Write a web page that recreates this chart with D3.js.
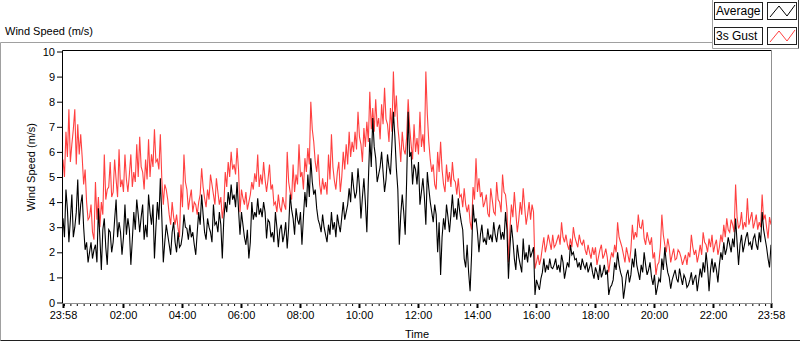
<!DOCTYPE html>
<html>
<head>
<meta charset="utf-8">
<script src="https://cdn.jsdelivr.net/npm/d3@7"></script>
<style>
body { margin: 0; background: #fff; }
text { font-family: "Liberation Sans", Arial, sans-serif; font-size: 11px; fill: #000; }
</style>
</head>
<body>
<svg width="800" height="342"></svg>
<script>
// 3s gust, one reading every 3 minutes from 23:58
var gust = [
  5.7,5.0, 6.8,5.8, 7.7,5.6, 6.3,6.9, 7.7,5.5, 7.1,5.9, 6.7,5.8, 4.7,5.3, 4.0,3.3, 3.4,3.9, 2.8,2.5, 4.8,3.3, 4.2,3.0, 4.0,3.5, 5.9,4.1,
  4.5,4.6, 5.6,4.2, 4.4,5.7, 4.9,4.2, 6.1,4.6, 4.9,4.4, 5.9,4.9, 4.4,5.1, 5.9,4.6, 5.2,4.8, 6.3,5.0, 6.6,5.4, 5.2,4.5, 5.7,4.9, 6.5,5.0,
  5.9,5.4, 6.9,5.6, 5.7,5.3, 6.7,4.9, 3.9,4.7, 4.5,4.1, 3.5,3.1, 4.0,3.4, 3.1,3.5, 2.95,2.6, 4.7,3.8, 5.9,4.8, 4.5,3.7, 4.15,4.5, 3.6,4.0,
  3.9,3.5, 4.0,4.3, 5.35,4.6, 4.15,3.8, 4.5,4.1, 5.1,4.7, 4.3,3.9, 4.95,4.4, 3.9,4.2, 3.35,3.8, 5.2,4.6, 5.6,5.0, 6.0,5.3, 5.5,5.1, 6.15,5.3,
  3.6,4.5, 4.15,3.9, 4.4,3.7, 4.0,4.3, 4.8,4.5, 5.15,4.8, 5.9,4.6, 5.1,4.7, 5.6,4.9, 4.4,4.9, 5.5,4.5, 4.7,3.9, 4.0,3.6, 4.3,3.8, 3.6,4.2,
  3.9,3.7, 6.0,4.8, 4.4,4.1, 5.5,4.4, 5.1,4.7, 6.3,5.0, 5.2,4.5, 5.75,5.2, 6.15,5.5, 8.0,6.9, 6.4,5.6, 5.2,5.9, 4.7,4.3, 4.95,4.5, 4.8,4.3,
  5.9,4.9, 6.7,5.4, 4.85,4.5, 5.2,5.6, 4.4,5.0, 6.0,5.3, 6.3,5.5, 6.8,5.8, 6.4,6.0, 6.8,6.1, 7.6,6.6, 6.3,5.6, 6.95,6.2, 7.2,6.4, 8.4,6.9,
  7.75,6.8, 8.1,7.0, 7.35,6.5, 7.9,7.1, 8.55,7.3, 7.1,6.4, 7.75,6.8, 9.2,7.4, 8.25,7.0, 6.4,5.6, 6.8,6.1, 5.9,6.6, 8.1,7.0, 6.3,5.7, 7.1,6.0,
  6.55,5.9, 7.6,6.2, 6.7,6.0, 9.2,7.5, 6.4,5.7, 5.2,5.5, 4.7,4.5, 6.0,5.2, 6.4,5.3, 4.7,4.4, 5.5,4.8, 5.2,4.6, 5.6,4.9, 4.8,4.3, 4.95,4.2,
  4.3,3.8, 4.55,3.9, 3.6,3.9, 3.2,2.9, 4.6,4.1, 5.75,4.4, 4.95,4.2, 4.4,3.8, 4.0,4.3, 3.55,3.4, 4.55,4.1, 3.6,3.5, 4.8,4.1, 4.0,3.6, 5.1,4.4,
  4.3,3.7, 1.6,2.9, 3.9,3.4, 4.4,3.6, 2.8,3.3, 4.0,3.5, 4.55,3.8, 3.1,3.5, 4.0,3.3, 3.9,3.6, 1.35,1.6, 1.9,1.5, 1.75,2.2, 2.6,2.0, 2.3,2.7,
  2.4,2.1, 2.7,2.2, 2.3,2.5, 2.7,2.3, 3.2,2.6, 2.4,2.7, 2.3,2.1, 2.55,2.2, 3.0,2.6, 2.4,2.2, 2.7,2.4, 2.3,2.5, 2.1,1.9, 2.3,2.0, 1.75,2.2,
  1.9,2.2, 1.5,1.8, 2.1,2.3, 1.75,1.9, 2.15,1.8, 1.2,1.7, 2.0,1.8, 2.3,2.0, 3.2,2.6, 2.4,2.2, 1.9,1.6, 2.2,1.9, 1.6,2.1, 3.1,2.5, 2.8,2.6,
  3.5,3.0, 2.95,3.3, 2.55,2.3, 2.8,2.5, 2.3,2.6, 1.75,2.0, 1.1,1.5, 1.6,2.2, 3.5,2.7, 2.3,2.0, 2.55,2.2, 1.6,1.9, 2.15,1.7, 1.75,2.1, 2.0,1.8,
  1.5,1.7, 1.9,1.5, 2.0,1.8, 2.7,2.2, 1.9,2.1, 1.6,1.9, 2.3,1.9, 2.8,2.4, 2.3,2.0, 2.55,2.2, 2.7,2.0, 2.3,2.5, 1.9,2.2, 2.7,2.4, 3.1,2.6,
  3.35,2.9, 2.8,3.3, 3.1,2.8, 4.7,3.4, 2.95,3.1, 3.6,2.9, 3.2,3.0, 4.15,3.1, 3.35,3.6, 2.95,3.2, 3.5,2.9, 3.2,3.0, 4.3,3.3, 3.5,3.0, 2.55,3.4, 3.1
];

// average wind speed, same time steps
var average = [
  3.35,2.6, 4.5,3.7, 2.4,3.3, 4.3,2.6, 3.0,3.6, 4.9,3.1, 3.9,4.3, 3.0,2.1, 2.4,1.6, 2.0,2.4, 1.75,2.1, 2.3,1.6, 3.75,2.6, 1.3,2.9, 3.35,2.2,
  1.5,2.9, 2.8,2.0, 2.4,3.3, 4.1,2.6, 3.2,2.8, 1.9,2.6, 3.9,2.7, 3.35,2.9, 1.5,2.5, 3.6,2.9, 4.1,3.5, 2.8,3.4, 3.9,2.5, 3.1,2.6, 4.3,3.6,
  3.1,3.9, 1.75,3.0, 4.0,3.3, 4.95,3.4, 1.6,2.4, 3.1,2.7, 2.3,1.9, 2.8,3.2, 2.4,2.0, 2.8,2.2, 2.3,2.7, 3.5,3.0, 2.95,2.5, 3.1,2.6, 2.8,2.3,
  1.9,2.8, 3.6,3.1, 4.3,3.5, 2.8,2.5, 3.35,3.0, 2.8,2.4, 3.9,3.1, 3.2,2.8, 3.6,3.1, 1.75,3.3, 4.0,3.6, 4.4,3.9, 4.7,4.1, 4.3,3.8, 4.8,3.7,
  2.7,3.6, 3.1,2.6, 2.3,2.9, 1.75,2.4, 4.0,3.3, 3.6,3.4, 4.15,3.5, 3.75,3.4, 4.0,3.6, 2.55,3.3, 3.2,2.6, 2.8,2.4, 3.6,3.0, 2.2,2.9, 3.1,2.4,
  2.7,3.2, 2.15,3.0, 4.3,3.7, 3.35,2.7, 3.75,3.3, 3.1,3.6, 2.3,3.4, 4.4,3.8, 5.1,4.2, 5.75,4.8, 4.3,4.5, 3.75,3.3, 3.1,2.8, 3.5,3.0, 2.7,2.4,
  3.1,2.7, 3.6,2.9, 3.2,2.6, 3.5,3.1, 2.8,3.4, 4.0,3.3, 3.6,3.9, 4.55,4.0, 5.2,4.6, 4.15,4.4, 5.35,4.6, 3.35,4.2, 4.95,4.0, 2.8,4.8, 6.55,5.4,
  7.35,6.2, 5.75,4.8, 5.1,5.4, 6.0,5.2, 4.4,4.9, 5.9,5.4, 5.1,6.3, 7.6,6.6, 5.35,4.5, 2.3,3.5, 4.3,3.6, 2.7,4.9, 7.6,5.8, 6.0,4.7, 5.5,5.3,
  4.7,5.6, 3.9,4.4, 4.95,4.2, 3.1,5.2, 4.55,4.0, 3.6,3.2, 3.9,3.5, 2.0,3.2, 1.1,2.6, 3.35,2.9, 3.9,3.4, 2.8,3.5, 4.3,3.4, 3.75,3.3, 4.15,3.6,
  3.2,2.9, 1.75,1.4, 2.3,1.2, 0.45,1.9, 3.9,3.2, 3.35,2.8, 2.0,2.7, 3.1,2.4, 2.55,2.3, 2.95,2.5, 2.7,2.4, 3.2,2.7, 2.4,2.9, 3.1,2.5, 2.8,2.5,
  3.6,2.9, 0.95,2.2, 3.1,2.5, 1.75,1.3, 2.3,1.8, 1.5,1.2, 2.55,1.7, 2.0,1.6, 2.3,1.8, 2.0,2.2, 0.3,0.9, 0.7,0.5, 0.95,1.2, 1.75,1.2, 1.5,1.3,
  1.75,1.4, 1.35,1.5, 1.75,1.3, 1.5,1.2, 1.9,1.6, 0.95,1.3, 1.6,1.4, 2.3,1.9, 2.0,1.7, 1.75,1.4, 1.6,1.3, 1.75,1.5, 1.35,1.6, 1.2,1.4, 1.6,1.2,
  0.95,1.4, 1.2,0.9, 1.5,1.0, 1.2,1.5, 1.1,1.3, 0.3,0.6, 0.7,0.9, 1.6,1.3, 2.0,1.5, 1.2,1.0, 0.15,0.6, 1.1,1.3, 0.8,1.1, 1.75,1.4, 2.15,1.5,
  1.2,0.9, 1.5,1.2, 2.0,1.5, 1.1,1.3, 1.6,1.0, 0.7,1.1, 0.3,0.6, 0.95,0.8, 1.75,1.3, 2.2,1.6, 1.2,1.0, 0.55,0.9, 1.1,1.3, 0.95,0.8, 1.35,1.0,
  0.7,1.1, 0.95,0.6, 0.7,0.9, 1.2,0.7, 0.95,1.1, 0.45,0.9, 1.35,1.0, 1.6,1.2, 2.0,1.4, 0.45,1.3, 1.75,1.2, 1.6,1.3, 0.8,1.5, 2.0,1.7, 2.4,1.9,
  2.15,2.6, 2.3,2.0, 2.55,2.2, 3.35,2.4, 1.5,2.3, 2.7,2.0, 2.3,2.6, 2.8,2.3, 2.4,2.1, 2.55,2.7, 2.3,2.1, 2.8,2.4, 3.6,2.9, 2.55,2.2, 1.75,1.4, 2.3
];

var yTicks = [0, 1, 2, 3, 4, 5, 6, 7, 8, 9, 10];
var xTickLabels = ["23:58", "02:00", "04:00", "06:00", "08:00", "10:00", "12:00",
                   "14:00", "16:00", "18:00", "20:00", "22:00", "23:58"];
var seriesNames = ["Average", "3s Gust"];
var seriesColors = ["#000000", "#ff4040"];

var startTime = new Date(2000, 0, 1, 23, 58);
var endTime = d3.timeMinute.offset(startTime, 1440);
var stepMinutes = 3;

var svg = d3.select("svg");

var x = d3.scaleTime().domain([startTime, endTime]).range([63, 771]);
var y = d3.scaleLinear().domain([0, 10]).range([302.5, 51.5]);

// outer frame of the graph
svg.append("path")
    .attr("d", "M0.5,340.5 V42.5 H712.5")
    .style("fill", "none").style("stroke", "#a0a0a0");
svg.append("path")
    .attr("d", "M0.5,340.5 H800")
    .style("fill", "none").style("stroke", "#202020");

svg.append("text").attr("x", 5).attr("y", 35).text("Wind Speed (m/s)");

// tick positions: label times every 2 hours, minor ticks in between
var majorTimes = xTickLabels.map(function(d, i) {
    return i == xTickLabels.length - 1 ? endTime : d3.timeMinute.offset(startTime, i == 0 ? 0 : 2 + i * 120);
});
var minorTimes = d3.range(0, 108).map(function(k) {
    return d3.timeMinute.offset(startTime, 2 + k * 40 / 3);
});

svg.append("g")
    .attr("transform", "translate(0,303)")
    .call(d3.axisBottom(x).tickValues(minorTimes).tickSize(3).tickFormat(""))
    .call(function(g) { g.select(".domain").remove(); g.selectAll("line").style("stroke", "#000"); });

svg.append("g")
    .attr("transform", "translate(0,303)")
    .call(d3.axisBottom(x).tickValues(majorTimes).tickSize(5).tickPadding(3)
        .tickFormat(function(d, i) { return xTickLabels[i]; }))
    .call(function(g) {
        g.select(".domain").remove();
        g.selectAll("line").style("stroke", "#000").style("stroke-width", 2);
        g.selectAll("text").style("font-size", "11px").style("font-family", null);
    });

svg.append("g")
    .attr("transform", "translate(62,0)")
    .call(d3.axisLeft(y).tickValues(yTicks).tickSize(5).tickPadding(2))
    .call(function(g) {
        g.select(".domain").remove();
        g.selectAll("line").style("stroke", "#000");
        g.selectAll("text").style("font-size", "11px").style("font-family", null);
    });

svg.append("text")
    .attr("transform", "translate(35,167) rotate(-90)")
    .attr("text-anchor", "middle")
    .text("Wind Speed (m/s)");

svg.append("text")
    .attr("x", 417).attr("y", 338)
    .attr("text-anchor", "middle")
    .text("Time");

// the two series, gust under average
var line = d3.line()
    .x(function(d, i) { return x(d3.timeMinute.offset(startTime, i * stepMinutes)); })
    .y(function(d) { return y(d); });

svg.append("path")
    .datum(gust)
    .attr("d", line)
    .style("fill", "none").style("stroke", seriesColors[1]).style("stroke-width", 1.1);

svg.append("path")
    .datum(average)
    .attr("d", line)
    .style("fill", "none").style("stroke", seriesColors[0]).style("stroke-width", 1.1);

// plot frame: dark top/left, grey bottom/right
svg.append("path")
    .attr("d", "M771.5,50.5 H62.5 V303.5")
    .style("fill", "none").style("stroke", "#000");
svg.append("path")
    .attr("d", "M62.5,303.5 H771.5 V50.5")
    .style("fill", "none").style("stroke", "#909090");

// legend box: grey left/bottom, dark right
var legend = svg.append("g");
legend.append("path")
    .attr("d", "M712.5,0 V48.5 H798.5")
    .style("fill", "none").style("stroke", "#a0a0a0");
legend.append("path")
    .attr("d", "M798.5,0 V48.5")
    .style("fill", "none").style("stroke", "#404040");
seriesNames.forEach(function(name, i) {
    var top = 2 + i * 25;
    legend.append("rect")
        .attr("x", 714.5).attr("y", top + 0.5).attr("width", 48).attr("height", 17)
        .style("fill", "#fff").style("stroke", "#202020");
    legend.append("text")
        .attr("x", 716).attr("y", top + 13).style("font-size", "12px").text(name);
    legend.append("rect")
        .attr("x", 767.5).attr("y", top + 0.5).attr("width", 29).attr("height", 17)
        .style("fill", "#fff").style("stroke", "#202020");
    legend.append("path")
        .attr("d", "M770," + (top + 15) + " L779," + (top + 4) + " L787," + (top + 14) + " L795," + (top + 3))
        .style("fill", "none").style("stroke", seriesColors[i]);
});
</script>
</body>
</html>
